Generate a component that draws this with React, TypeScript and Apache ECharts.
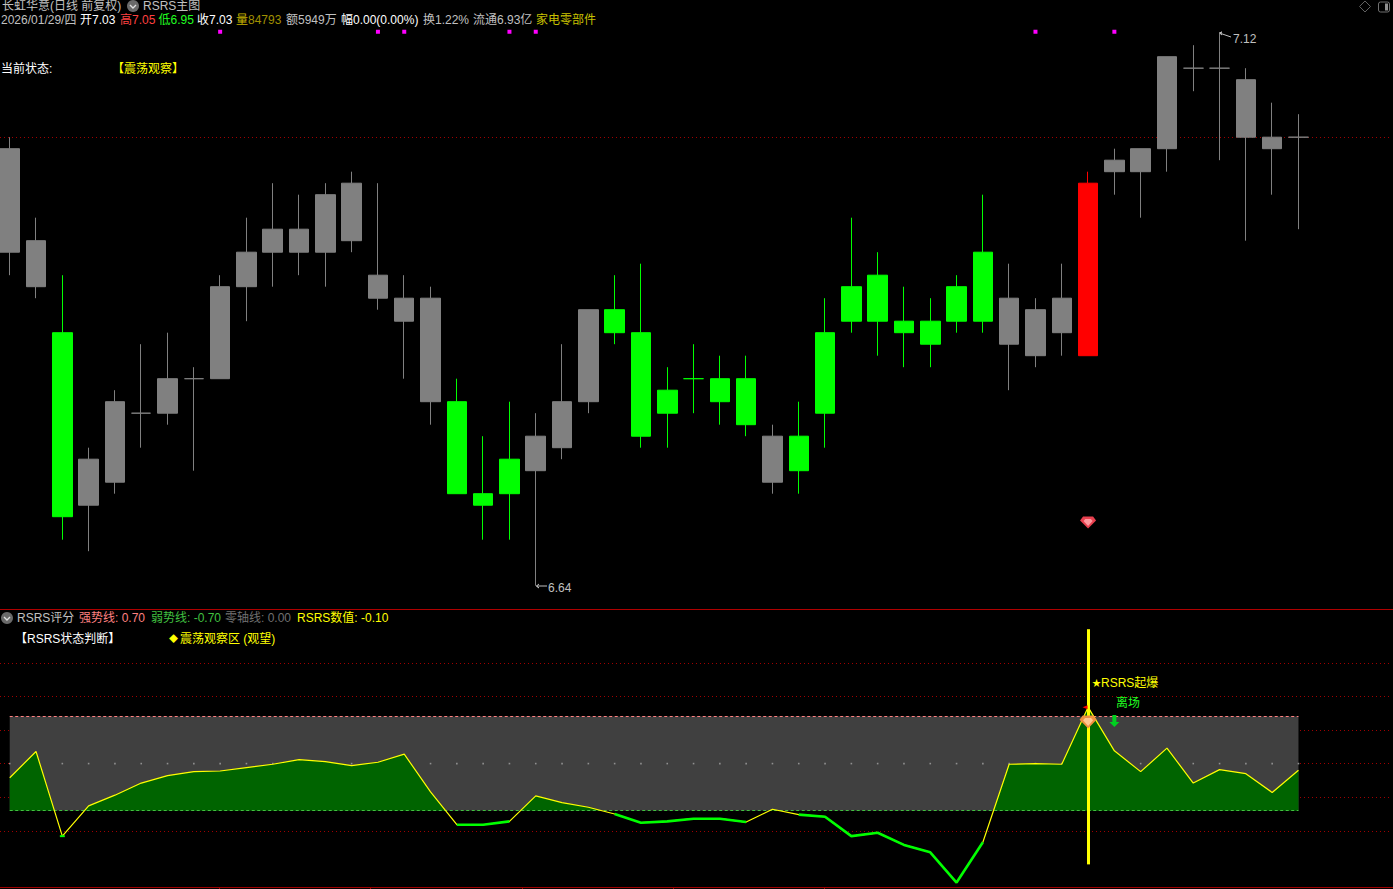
import React, { useEffect, useRef } from "react";
import * as echarts from "echarts";

// ---- data ----
const opens = [6.93,6.90,6.86,6.71,6.73,6.79,6.79,6.82,6.82,6.90,6.93,6.93,6.93,6.94,6.89,6.87,6.80,6.80,6.72,6.72,6.74,6.76,6.80,6.88,6.86,6.81,6.82,6.82,6.82,6.73,6.77,6.86,6.90,6.91,6.87,6.87,6.90,6.93,6.85,6.84,6.86,6.84,7.00,7.00,7.02,7.09,7.09,7.03,7.02,7.03];
const closes = [7.02,6.94,6.70,6.75,6.80,6.79,6.82,6.82,6.90,6.93,6.95,6.95,6.98,6.99,6.91,6.89,6.89,6.72,6.71,6.75,6.77,6.80,6.88,6.86,6.77,6.79,6.82,6.80,6.78,6.77,6.74,6.79,6.87,6.87,6.86,6.85,6.87,6.87,6.89,6.88,6.89,6.99,7.01,7.02,7.10,7.09,7.09,7.08,7.03,7.03];
const lows = [6.91,6.89,6.68,6.67,6.72,6.76,6.78,6.74,6.82,6.87,6.90,6.91,6.90,6.93,6.88,6.82,6.78,6.72,6.68,6.68,6.64,6.75,6.79,6.85,6.76,6.76,6.79,6.78,6.77,6.72,6.72,6.76,6.86,6.84,6.83,6.83,6.86,6.86,6.81,6.83,6.84,6.84,6.98,6.96,7.00,7.07,7.01,6.94,6.98,6.95];
const highs = [7.03,6.96,6.91,6.76,6.81,6.85,6.86,6.83,6.91,6.96,6.99,6.98,6.99,7.00,6.99,6.91,6.90,6.82,6.77,6.80,6.79,6.85,6.88,6.91,6.92,6.83,6.85,6.84,6.84,6.78,6.80,6.89,6.96,6.93,6.90,6.89,6.91,6.98,6.92,6.89,6.92,7.00,7.02,7.02,7.10,7.11,7.12,7.09,7.06,7.05];
const candleColors = ["g","g","n","g","g","g","g","g","g","g","g","g","g","g","g","g","g","n","n","n","g","g","g","n","n","n","n","n","n","g","n","n","n","n","n","n","n","n","g","g","g","r","g","g","g","g","g","g","g","g"];
const rsrs = [-0.21,0.18,-1.08,-0.63,-0.47,-0.29,-0.18,-0.12,-0.11,-0.06,-0.01,0.06,0.03,-0.03,0.02,0.14,-0.42,-0.91,-0.91,-0.86,-0.48,-0.58,-0.65,-0.75,-0.88,-0.86,-0.82,-0.82,-0.87,-0.68,-0.76,-0.79,-1.08,-1.03,-1.21,-1.32,-1.77,-1.17,-0.01,0.00,-0.01,0.84,0.19,-0.12,0.23,-0.29,-0.09,-0.15,-0.43,-0.10];
const magentaIdx = [8,14,15,19,20,39,42];
const signalIdx = 41;
const exitIdx = 42;
const strongLine = 0.7;
const weakLine = -0.7;
const subGridLow = [1.5,1,0.5,0,-0.5];
const subGridHigh = [-1];
const lastClose = 7.03;

const palette: Record<string,string> = { g: "#808080", n: "#00ff00", r: "#ff0000" };
const X_MIN = -0.37;
const X_MAX = 52.48;
const FONT = '"Liberation Sans","Noto Sans CJK SC",sans-serif';
const DIM = "#c0c0c0";

type T = [number, number, string, string, number?];
const texts: T[] = [
  [2,6,"长虹华意(日线 前复权)",DIM],
  [143,6,"RSRS主图",DIM],
  [1,20,"2026/01/29/四",DIM],
  [80,20,"开7.03","#ffffff"],
  [120,20,"高7.05","#ff4040"],
  [158.5,20,"低6.95","#20ff20"],
  [197,20,"收7.03","#ffffff"],
  [236,20,"量","#c8b400"],
  [248,20,"84793","#a09000"],
  [286,20,"额5949万",DIM],
  [341,20,"幅0.00(0.00%)","#ffffff"],
  [423,20,"换1.22%",DIM],
  [473,20,"流通6.93亿",DIM],
  [536,20,"家电零部件","#c8c000"],
  [1,69,"当前状态:","#ffffff"],
  [112,69,"【震荡观察】","#ffff00"],
  [17,618,"RSRS评分",DIM],
  [79,618,"强势线: 0.70","#ff8080"],
  [151,618,"弱势线: -0.70","#40c040"],
  [225,618,"零轴线: 0.00","#707070"],
  [297,618,"RSRS数值: -0.10","#ffff00"],
  [15,639,"【RSRS状态判断】","#ffffff"],
  [169,639,"◆","#ffff00",9],
  [180,639,"震荡观察区 (观望)","#ffff00"],
  [1092,683,"★","#ffff00",9],
  [1101,683,"RSRS起爆","#ffff00"],
  [1116,703,"离场","#20ff20"],
  [1233,39,"7.12",DIM],
  [548,588,"6.64",DIM],
];

const GEM_OUT = "path://M3 0H13L16 4L8 12L0 4Z";
const GEM_IN = "path://M5 1.5H11L13 4L8 10L3 4Z";
const ARROW = "path://M3 0H7V7H10L5 12L0 7H3Z";
const TICK = "path://M0 2L5 0V4Z";

const chevron = (cx: number, cy: number) => [
  { type: "circle", shape: { cx, cy, r: 6 }, style: { fill: "#6a6a6a" }, silent: true },
  { type: "polyline", shape: { points: [[cx - 3, cy - 1], [cx, cy + 2], [cx + 3, cy - 1]] }, style: { stroke: "#e0e0e0", lineWidth: 1.4, fill: "none" }, silent: true },
];

const gridLines = (values: number[], z: number) => ({
  type: "line", xAxisIndex: 1, yAxisIndex: 1, data: [], silent: true,
  markLine: { z, silent: true, symbol: "none", animation: false, label: { show: false },
    lineStyle: { color: "#a00000", width: 1, type: [1, 3] },
    data: values.map((v) => ({ yAxis: v })) },
});

const span = (v: number, color: string, z: number) => ({
  type: "line", xAxisIndex: 1, yAxisIndex: 1, data: [], silent: true,
  markLine: { z, silent: true, symbol: "none", animation: false, label: { show: false },
    lineStyle: { color, width: 1, type: [3, 2.5] },
    data: [[{ xAxis: 0, yAxis: v }, { xAxis: rsrs.length - 1, yAxis: v }]] },
});

const mark = (xAxisIndex: number, symbol: string, size: any, color: string, pts: number[][], z: number, offset?: number[]) => ({
  type: "scatter", xAxisIndex, yAxisIndex: xAxisIndex, symbol, symbolSize: size, symbolOffset: offset || [0, 0], z, silent: true,
  itemStyle: { color, opacity: 1 }, data: pts,
});

export default function App() {
  const ref = useRef<HTMLDivElement>(null);
  useEffect(() => {
    document.body.style.margin = "0";
    document.body.style.background = "#000";
    const chart = echarts.init(ref.current!, null, { renderer: "svg" });
    const candles = opens.map((o, i) => {
      const c = palette[candleColors[i]];
      return {
        value: [i, o, closes[i], lows[i], highs[i]],
        itemStyle: { color: c, color0: c, borderColor: c, borderColor0: c, borderColorDoji: c, borderWidth: 1 },
      };
    });
    const line = rsrs.map((v, i) => [i, v]);
    const below = rsrs.map((v, i) => [i, v < weakLine ? v : null]);
    const lone = rsrs
      .map((v, i) => [i, v])
      .filter(([i, v]) => v < weakLine && !(rsrs[i - 1] < weakLine) && !(rsrs[i + 1] < weakLine));
    chart.setOption({
      animation: false,
      backgroundColor: "#000000",
      tooltip: { show: false },
      grid: [
        { left: 0, top: 10.7, width: 1390, height: 598 },
        { left: 0, top: 612.4, width: 1390, height: 275.5 },
      ],
      xAxis: [0, 1].map((gridIndex) => ({ type: "value", gridIndex, min: X_MIN, max: X_MAX, show: false, splitLine: { show: false } })),
      yAxis: [
        { type: "value", gridIndex: 0, min: 6.62, max: 7.14, show: false, splitLine: { show: false } },
        { type: "value", gridIndex: 1, min: -1.85, max: 2.25, show: false, splitLine: { show: false } },
      ],
      series: [
        { type: "line", xAxisIndex: 0, yAxisIndex: 0, data: [], silent: true,
          markLine: { z: 1, silent: true, symbol: "none", animation: false, label: { show: false },
            lineStyle: { color: "#a00000", width: 1, type: [1, 3] }, data: [{ yAxis: lastClose }] } },
        { type: "candlestick", xAxisIndex: 0, yAxisIndex: 0, z: 3, barWidth: 20, silent: true, data: candles },
        mark(0, "rect", 4, "#ff00ff", magentaIdx.map((i) => [i, 7.1217]), 4),
        mark(0, GEM_OUT, [16, 12], "#e8404f", [[signalIdx, 6.695]], 5),
        mark(0, GEM_IN, [9, 7], "#ff9aa0", [[signalIdx, 6.695]], 6),

        gridLines(subGridLow, 1),
        { type: "line", xAxisIndex: 1, yAxisIndex: 1, data: [], silent: true,
          markArea: { z: 2, silent: true, itemStyle: { color: "#404040", opacity: 1 }, label: { show: false },
            data: [[{ xAxis: 0, yAxis: strongLine }, { xAxis: rsrs.length - 1, yAxis: weakLine }]] } },
        mark(1, "rect", 1.6, "#909090", rsrs.map((_, i) => [i, 0]), 3),
        { type: "line", xAxisIndex: 1, yAxisIndex: 1, z: 4, data: line, showSymbol: false, silent: true,
          lineStyle: { width: 0, opacity: 0 }, areaStyle: { color: "#006400", opacity: 1, origin: "start" } },
        { type: "line", xAxisIndex: 1, yAxisIndex: 1, data: [], silent: true,
          markArea: { z: 5, silent: true, itemStyle: { color: "#000000", opacity: 1 }, label: { show: false },
            data: [[{ xAxis: -0.1, yAxis: weakLine }, { xAxis: rsrs.length - 1 + 0.1, yAxis: -1.85 }]] } },
        gridLines(subGridHigh, 6),
        span(strongLine, "#ff8080", 6),
        span(weakLine, "#40c040", 6),
        { type: "line", xAxisIndex: 1, yAxisIndex: 1, z: 7, data: line, showSymbol: false, silent: true,
          lineStyle: { color: "#ffff00", width: 1.2 }, itemStyle: { color: "#ffff00" } },
        { type: "line", xAxisIndex: 1, yAxisIndex: 1, z: 8, showSymbol: false, silent: true, connectNulls: false,
          data: below,
          lineStyle: { color: "#00ff00", width: 2.6 }, itemStyle: { color: "#00ff00" } },
        mark(1, "rect", [5, 2], "#00ff00", lone, 8),
        { type: "line", xAxisIndex: 1, yAxisIndex: 1, data: [], silent: true,
          markLine: { z: 9, silent: true, symbol: "none", animation: false, label: { show: false },
            lineStyle: { color: "#ffff00", width: 3, type: "solid" },
            data: [[{ xAxis: signalIdx, yAxis: 2 }, { xAxis: signalIdx, yAxis: -1.5 }]] } },
        mark(1, TICK, [5, 4], "#ff0000", [[signalIdx, rsrs[signalIdx]]], 10, [-3, 0]),
        mark(1, GEM_OUT, [17, 13], "#f09040", [[signalIdx, 0.62]], 11),
        mark(1, GEM_IN, [10, 8], "#ffc890", [[signalIdx, 0.62]], 12),
        mark(1, ARROW, [10, 12], "#00d020", [[exitIdx, 0.635]], 12),
      ],
      graphic: [
        ...texts.map(([x, y, text, fill, size]) => ({
          type: "text", x, y, silent: true, z: 100,
          style: { text, fill, font: `${size || 12}px ${FONT}`, verticalAlign: "middle", textVerticalAlign: "middle" },
        })),
        ...chevron(133, 6),
        ...chevron(7, 618),
        { type: "polygon", silent: true, z: 100, shape: { points: [[1365, 1], [1370.5, 6.5], [1365, 12], [1359.5, 6.5]] }, style: { fill: "none", stroke: "#606060", lineWidth: 1 } },
        { type: "rect", silent: true, z: 100, shape: { x: 1378.5, y: 2, width: 11, height: 10, r: 2 }, style: { fill: "none", stroke: "#707070", lineWidth: 1 } },
        { type: "rect", silent: true, z: 100, shape: { x: 1385, y: 3.5, width: 3, height: 7 }, style: { fill: "#909090" } },
        { type: "polyline", silent: true, z: 100, shape: { points: [[1222, 35], [1219.5, 33], [1222, 32], [1219.5, 33], [1231, 37]] }, style: { fill: "none", stroke: DIM, lineWidth: 1 } },
        { type: "polyline", silent: true, z: 100, shape: { points: [[539, 584], [536.5, 586], [539, 588], [536.5, 586], [547, 586]] }, style: { fill: "none", stroke: DIM, lineWidth: 1 } },
        { type: "line", silent: true, z: 100, shape: { x1: 0, y1: 609.5, x2: 1393, y2: 609.5 }, style: { stroke: "#b00000", lineWidth: 1 } },
        { type: "line", silent: true, z: 100, shape: { x1: 0, y1: 887.5, x2: 1393, y2: 887.5 }, style: { stroke: "#a00000", lineWidth: 1 } },
        ...[219, 370, 522, 673, 824].map((x) => ({ type: "line", silent: true, z: 100, shape: { x1: x + 0.5, y1: 887, x2: x + 0.5, y2: 889 }, style: { stroke: "#a00000", lineWidth: 1 } })),
      ],
    });
    return () => chart.dispose();
  }, []);
  return <div ref={ref} style={{ position: "fixed", left: 0, top: 0, width: 1393, height: 889 }} />;
}
